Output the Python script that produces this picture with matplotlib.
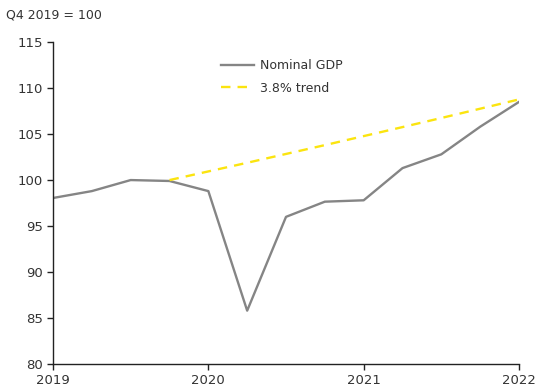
import matplotlib.pyplot as plt

# Quarterly index, Q4 2019 = 100
quarters = [2019.0, 2019.25, 2019.5, 2019.75, 2020.0, 2020.25, 2020.5, 2020.75,
            2021.0, 2021.25, 2021.5, 2021.75, 2022.0]
nominal_gdp = [98.05, 98.8, 100.0, 99.9, 98.8, 85.8, 96.0, 97.65,
               97.8, 101.3, 102.8, 105.8, 108.5]

# 3.8% annual trend from Q4 2019
trend_quarters = [2019.75, 2020.0, 2020.25, 2020.5, 2020.75,
                  2021.0, 2021.25, 2021.5, 2021.75, 2022.0]
trend = [100.0, 100.94, 101.88, 102.84, 103.80, 104.78, 105.76, 106.75, 107.76, 108.77]

text_col = '#333333'
plt.rcParams['font.family'] = 'DejaVu Sans'
plt.rcParams['font.size'] = 9

fig = plt.figure(figsize=(5.36, 3.9), dpi=100)
ax = fig.add_axes([0.0989, 0.0667, 0.8694, 0.8253])

ax.plot(quarters, nominal_gdp, color='#858585', lw=1.7, label='Nominal GDP')
ax.plot(trend_quarters, trend, color='#fbe40f', lw=1.7, ls=(0, (4, 3)), label='3.8% trend')

ax.set_xlim(2019, 2022)
ax.set_ylim(80, 115)
ax.set_xticks([2019, 2020, 2021, 2022])
ax.set_xticklabels(['2019', '2020', '2021', '2022'])
ax.set_yticks(range(80, 116, 5))

for side in ['top', 'right']:
    ax.spines[side].set_visible(False)
for side in ['left', 'bottom']:
    ax.spines[side].set_color('#222222')
    ax.spines[side].set_linewidth(1.0)
ax.tick_params(colors='#222222', labelcolor=text_col, length=4, width=1.0, labelsize=9.5)
ax.tick_params(axis='x', pad=3)
ax.tick_params(axis='y', pad=3)

ax.legend(loc='upper left', bbox_to_anchor=(0.392, 0.877), bbox_transform=fig.transFigure,
          frameon=False, handlelength=2.6, handletextpad=0.5, labelspacing=0.75,
          fontsize=9, labelcolor=text_col)

fig.text(0.012, 0.962, 'Q4 2019 = 100', color=text_col, fontsize=9, va='center', ha='left')

fig.savefig('out.png', dpi=100)
